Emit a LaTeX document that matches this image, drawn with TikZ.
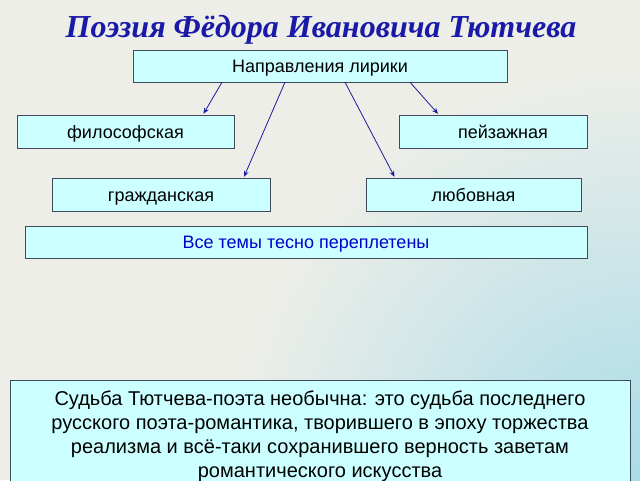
\documentclass[tikz,border=0pt]{standalone}
\usepackage{fontspec}
\setmainfont{Liberation Sans}
\newfontfamily\titlefont{Liberation Serif}
\usetikzlibrary{positioning, arrows.meta, shadows}

\definecolor{boxfill}{HTML}{CCFFFF}
\definecolor{boxline}{HTML}{3F4A5A}
\definecolor{arrowblue}{HTML}{1C1C9C}
\definecolor{titleblue}{HTML}{1A1AA8}
\definecolor{bgleft}{HTML}{EEEEE8}
\definecolor{bgteal}{HTML}{A8DCE8}

\begin{document}
\begin{tikzpicture}[x=1pt, y=-1pt]
\tikzset{
  lyrbox/.style={draw=boxline, fill=boxfill, thin, inner sep=0pt,
    text height=13pt, text depth=0pt,
    font=\fontsize{18}{20}\selectfont, drop shadow={shadow xshift=1pt, shadow yshift=-1pt, opacity=0.35}},
  lyrarrow/.style={draw=arrowblue, thick, -{Stealth[length=6pt, width=5pt]}}
}
\useasboundingbox (0,0) rectangle (640,480);
\clip (0,0) rectangle (640,480);

% background
\fill[bgleft] (0,0) rectangle (640,480);
\shade[inner color=bgteal, outer color=bgleft] (640,480) circle (420pt);

% title
\node (title) at (321,30) {\titlefont\bfseries\itshape\fontsize{32}{36}\selectfont\color{titleblue}Поэзия Фёдора Ивановича Тютчева};

% boxes
\node (lyrics) [lyrbox, minimum width=374pt, minimum height=32pt] at (320,66) {Направления лирики};
\node (philo) [lyrbox, minimum width=217pt, minimum height=33pt] at (125.5,131.5) {философская};
\node (land) [lyrbox, minimum width=188pt, minimum height=33pt] at (493,131.5) {\hspace*{20pt}пейзажная};
\node (civic) [lyrbox, minimum width=218pt, minimum height=33pt] at (161,194.5) {гражданская};
\node (love) [lyrbox, minimum width=215pt, minimum height=33pt] at (473.5,194.5) {любовная};
\node (themes) [lyrbox, minimum width=562pt, minimum height=32pt, text=blue!80!black] at (306,242) {Все темы тесно переплетены};

% bottom note
\node (fate) [lyrbox, text height=, anchor=north, minimum width=620pt, minimum height=120pt] at (320,380) {};
\node (fatetext) [anchor=north, align=center, font=\fontsize{20}{24}\selectfont] at (320,387)
  {Судьба Тютчева-поэта необычна: это судьба последнего\\
   русского поэта-романтика, творившего в эпоху торжества\\
   реализма и всё-таки сохранившего верность заветам\\
   романтического искусства};

% connections
\draw[lyrarrow] ([xshift=-98pt]lyrics.south) -- ([xshift=78pt, yshift=1pt]philo.north);
\draw[lyrarrow] ([xshift=-35pt]lyrics.south) -- ([xshift=83pt, yshift=1pt]civic.north);
\draw[lyrarrow] ([xshift=25pt]lyrics.south) -- ([xshift=-79pt, yshift=1pt]love.north);
\draw[lyrarrow] ([xshift=90pt]lyrics.south) -- ([xshift=-55pt, yshift=1pt]land.north);
\end{tikzpicture}
\end{document}
